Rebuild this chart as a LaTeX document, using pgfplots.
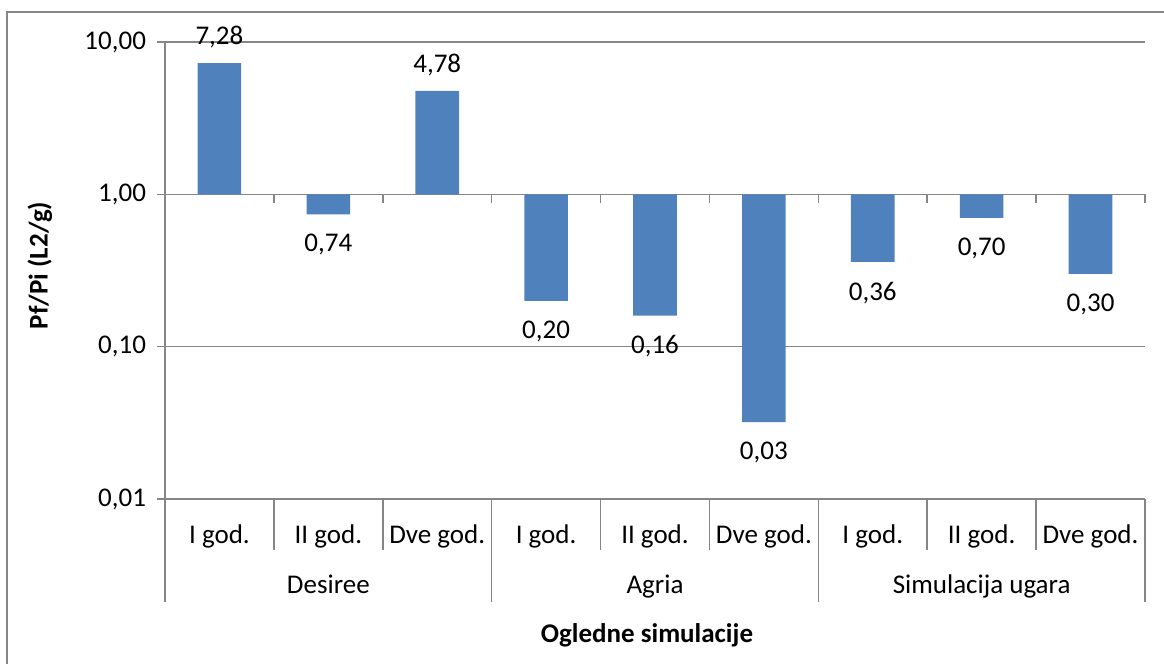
\documentclass[border=0pt]{standalone}
\usepackage{pgfplots}
\pgfplotsset{compat=1.18}
\usepackage{fontspec}
\setmainfont{Carlito}
\definecolor{barblue}{HTML}{4F81BD}
\definecolor{gridgray}{HTML}{868686}
\begin{document}
\begin{tikzpicture}[x=1pt,y=1pt]
\useasboundingbox (0,0) rectangle (582,332);
\draw[gridgray,line width=0.7pt] (3.5,-5) rectangle (590,326);
\begin{axis}[
  at={(82.5pt,82.5pt)}, anchor=south west,
  scale only axis, width=490pt, height=228.5pt,
  font=\fontsize{13.5}{15}\selectfont,
  ymode=log, ymin=0.01, ymax=10,
  log origin y=0,
  xmin=-0.5, xmax=8.5,
  axis x line*=bottom, axis y line*=left,
  axis line style={gridgray, line width=0.8pt, -},
  ymajorgrids, grid style={gridgray, line width=0.8pt},
  ytick={0.01,0.1,1,10},
  yticklabels={{0,01},{0,10},{1,00},{10,00}},
  tick align=outside, major tick length=4pt,
  ytick style={gridgray, line width=0.8pt},
  yminorticks=false,
  xtick={0,...,8},
  xticklabels={I god., II god., Dve god., I god., II god., Dve god., I god., II god., Dve god.},
  xtick style={draw=none},
  xticklabel style={anchor=base, yshift=-18.5pt},
  extra x ticks={1,4,7},
  extra x tick labels={Desiree, Agria, Simulacija ugara},
  extra x tick style={xticklabel style={anchor=base, yshift=-28.5pt}, major tick length=0pt},
  yticklabel style={xshift=-2pt},
  ylabel={\bfseries Pf/Pi (L2/g)},
  every axis y label/.style={at={([xshift=-62.5pt,yshift=2.5pt]axis description cs:0,0.5)}, rotate=90, anchor=center},
  xlabel={\bfseries Ogledne simulacije},
  every axis x label/.style={at={([xshift=-4pt,yshift=-68pt]axis description cs:0.5,0)}, anchor=center},
  clip=false,
]
\addplot[ybar, bar width=21.8pt, bar shift=0pt, fill=barblue, draw=none]
  coordinates {(0,7.28) (1,0.74) (2,4.78) (3,0.20) (4,0.16) (5,0.032) (6,0.36) (7,0.70) (8,0.30)};
\addplot[draw=none, mark=none, nodes near coords, point meta=explicit symbolic,
  nodes near coords style={anchor=south, yshift=4pt, font=\fontsize{13.5}{15}\selectfont}]
  table[meta=lab] {
x y lab
0 7.28 {7,28}
2 4.78 {4,78}
};
\addplot[draw=none, mark=none, nodes near coords, point meta=explicit symbolic,
  nodes near coords style={anchor=north, yshift=-6.5pt, font=\fontsize{13.5}{15}\selectfont}]
  table[meta=lab] {
x y lab
1 0.74 {0,74}
3 0.20 {0,20}
4 0.16 {0,16}
5 0.032 {0,03}
6 0.36 {0,36}
7 0.70 {0,70}
8 0.30 {0,30}
};
\pgfplotsinvokeforeach{0.5,1.5,2.5,3.5,4.5,5.5,6.5,7.5,8.5}{
  \draw[gridgray, line width=0.8pt] (axis cs:#1,1) -- ++(0pt,-4.5pt);
}
\pgfplotsinvokeforeach{0.5,1.5,3.5,4.5,6.5,7.5}{
  \draw[gridgray, line width=0.8pt] (axis cs:#1,0.01) -- ++(0pt,-25.5pt);
}
\pgfplotsinvokeforeach{-0.5,2.5,5.5,8.5}{
  \draw[gridgray, line width=0.8pt] (axis cs:#1,0.01) -- ++(0pt,-51.5pt);
}
\end{axis}
\end{tikzpicture}
\end{document}
